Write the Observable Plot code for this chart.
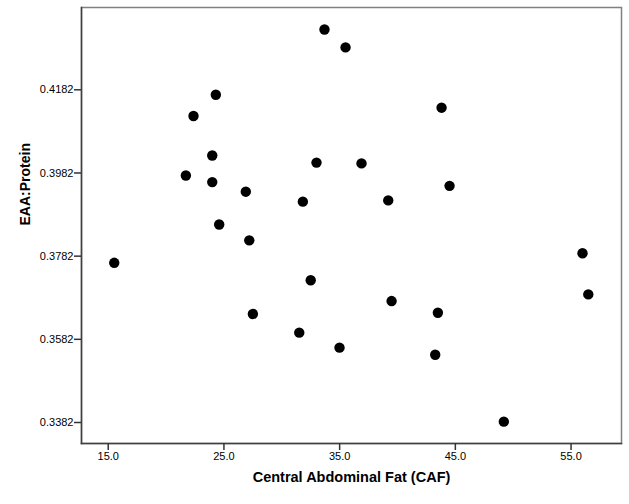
<!DOCTYPE html>
<html>
<head>
<meta charset="utf-8">
<script src="https://cdn.jsdelivr.net/npm/d3@7"></script>
<script src="https://cdn.jsdelivr.net/npm/@observablehq/plot@0.6"></script>
<style>
  html, body { margin: 0; padding: 0; background: white; }
</style>
</head>
<body>
<div id="chart"></div>
<script>
const caf = [33.69, 35.51, 24.30, 22.37, 43.81, 23.99, 33.00, 36.89, 21.71, 23.99,
             44.50, 26.89, 31.82, 39.20, 24.59, 27.19, 55.99, 15.52, 32.50, 56.49,
             39.49, 27.50, 43.49, 31.51, 34.99, 43.26, 49.19];
const eaaProtein = [0.4327, 0.4284, 0.4170, 0.4119, 0.4139, 0.4024, 0.4007, 0.4005, 0.3976, 0.3960,
                    0.3951, 0.3937, 0.3913, 0.3916, 0.3858, 0.3820, 0.3789, 0.3766, 0.3724, 0.3690,
                    0.3674, 0.3643, 0.3646, 0.3598, 0.3562, 0.3545, 0.3384];
const xTicks = [15, 25, 35, 45, 55];
const yTicks = [0.3382, 0.3582, 0.3782, 0.3982, 0.4182];
const xLabel = "Central Abdominal Fat (CAF)";
const yLabel = "EAA:Protein";

const data = caf.map((c, i) => ({caf: c, eaa: eaaProtein[i]}));

const chart = Plot.plot({
  width: 629,
  height: 504,
  marginLeft: 81,
  marginTop: 7,
  marginRight: 8,
  marginBottom: 61,
  style: {fontFamily: "'Liberation Sans', Arial, sans-serif", fontSize: "11px", background: "white", color: "black"},
  x: {domain: [12.69, 59.36]},
  y: {domain: [0.33315, 0.43799]},
  marks: [
    Plot.frame({stroke: "#808080", strokeWidth: 1.5}),
    Plot.frame({anchor: "left", stroke: "#404040", strokeWidth: 1.5}),
    Plot.frame({anchor: "bottom", stroke: "#404040", strokeWidth: 1.5}),
    Plot.axisX({ticks: xTicks, tickFormat: d3.format(".1f"), tickSize: 7, tickPadding: 2, label: null, stroke: "#333", strokeWidth: 1.5}),
    Plot.axisY({ticks: yTicks, tickFormat: d3.format(".4f"), tickSize: 7, tickPadding: 1, label: null, stroke: "#333", strokeWidth: 1.5}),
    Plot.dot(data, {x: "caf", y: "eaa", r: 5.2, fill: "black", stroke: "none"}),
    Plot.text([xLabel], {frameAnchor: "bottom", dy: 38, fontWeight: "bold", fontSize: 14.5, fill: "black"}),
    Plot.text([yLabel], {frameAnchor: "left", dx: -56, rotate: -90, fontWeight: "bold", fontSize: 14, fill: "black"})
  ]
});
document.getElementById("chart").appendChild(chart);
</script>
</body>
</html>
